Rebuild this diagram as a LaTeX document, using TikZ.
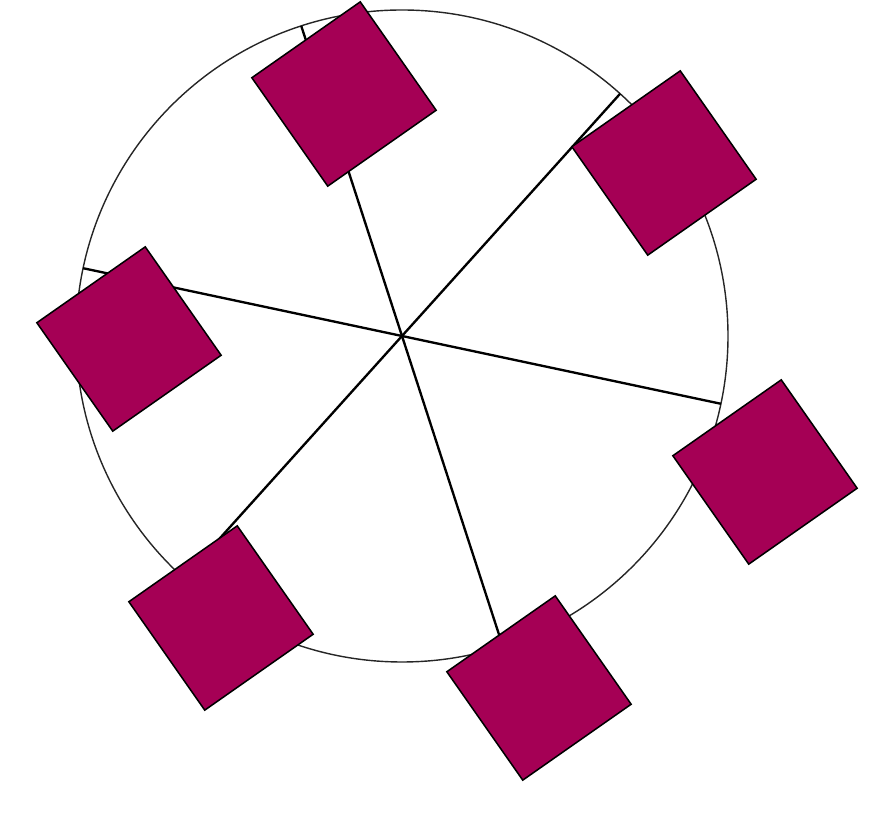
\documentclass[tikz,border=0pt]{standalone}
\usepackage{tikz}
\usetikzlibrary{positioning}
\usepackage{xcolor}
\definecolor{berry}{RGB}{165,0,85}

\begin{document}
\begin{tikzpicture}[x=0.03cm, y=0.03cm,
  tile/.style={draw, line width=1.3pt, fill=berry, rotate=35, inner sep=0pt,
    minimum size=3.97cm},
  spoke/.style={line width=2pt},
  rim/.style={line width=1.2pt, draw=black!85}]
  \useasboundingbox (0,0) rectangle (882,816);
  \coordinate (c) at (402,480);
  \draw[rim] (c) circle (326);
  \foreach \a [count=\i] in {-12,48,108,168,228,288} {
    \coordinate (e\i) at ([shift={(\a:326)}]c);
    \draw[spoke] (c) -- (e\i);
  }
  \node[tile] (t1) at (344,722) {};
  \node[tile] (t2) at (664,653) {};
  \node[tile] (t3) at (129,477) {};
  \node[tile] (t4) at (765,344) {};
  \node[tile] (t5) at (539,128) {};
  \node[tile] (t6) at (221,198) {};
\end{tikzpicture}
\end{document}
